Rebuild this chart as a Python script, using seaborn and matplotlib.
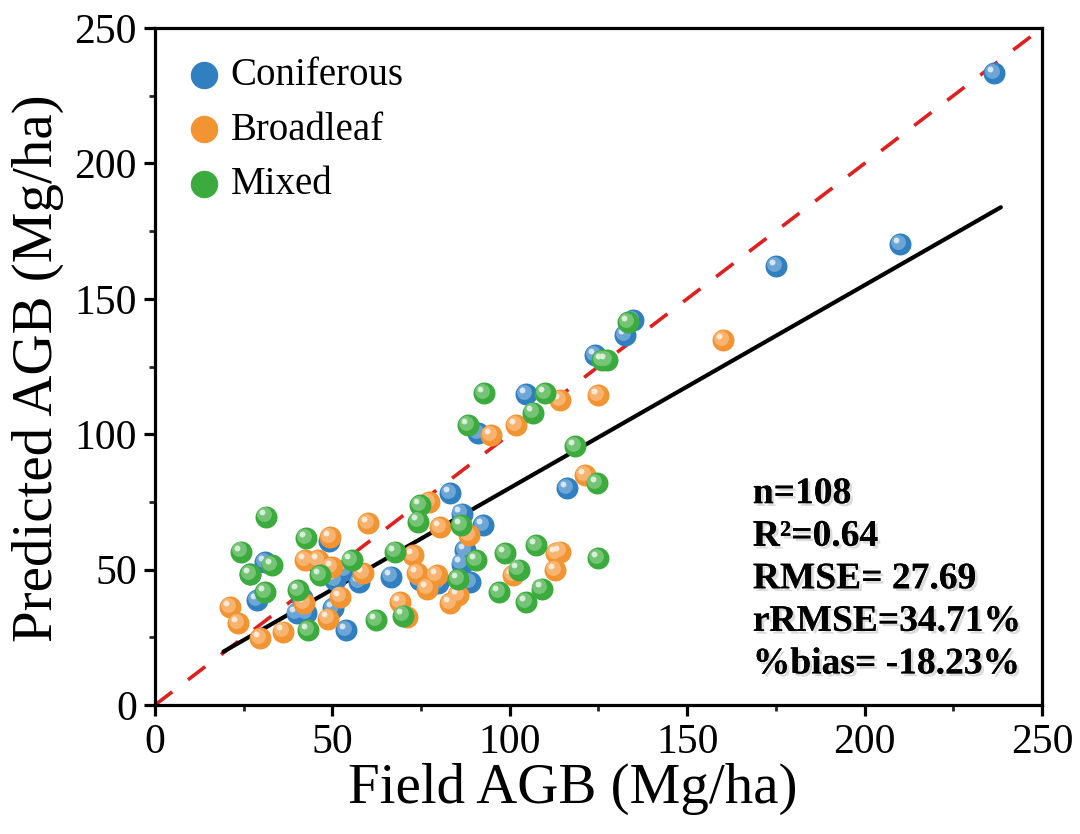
import numpy as np
import pandas as pd
import matplotlib
matplotlib.use("Agg")
import matplotlib.pyplot as plt
import matplotlib.patheffects as pe
from matplotlib.transforms import offset_copy
import seaborn as sns

# ---------------- data ----------------
coniferous_x = [236.5, 210, 175, 134.8, 132.5, 124, 104.6, 91.1, 116.2, 83.1, 92.5, 86.4,
                87.4, 86.4, 88.8, 79.9, 74.6, 66.5, 57.6, 50.7, 53.5, 45.6, 49.1, 50.1,
                53.8, 39.9, 42.7, 41.3, 28.8, 31.0, 26.8]
coniferous_y = [233.4, 170.2, 162.1, 142.2, 136.6, 129.2, 114.8, 100.3, 80, 78.1, 66.5, 70.7,
                57.2, 52.2, 45.5, 44.9, 46.2, 47.4, 45.5, 46.2, 49.8, 52.4, 60.7, 35.7,
                27.7, 33.8, 33.8, 39.4, 38.8, 52.9, 48.4]

broadleaf_x = [160.2, 125, 114.1, 101.7, 94.7, 121.2, 114.1, 112.7, 101, 88.6, 80.3, 85.5,
               83.1, 72.8, 73.8, 79.4, 76.6, 69, 70.9, 77.3, 60.1, 58.7, 52.1, 48.9, 49.4,
               42.3, 46, 49.8, 42, 36.2, 29.6, 23.5, 21.1, 113]
broadleaf_y = [134.8, 114.5, 112.6, 103.4, 99.7, 84.9, 56.6, 49.9, 48, 62.8, 65.8, 40.6,
               37.5, 55.4, 48.6, 48, 43, 38.1, 32.6, 75, 67.3, 48.6, 40, 31.9, 62,
               53.5, 53.5, 51, 37.5, 27.1, 24.6, 30.1, 36, 56]

mixed_x = [127.3, 126, 133.4, 92.8, 109.9, 106.6, 88.3, 118.4, 124.5, 125, 98.6, 107.5,
           102.5, 97, 104.5, 109, 86.2, 90.6, 74.7, 74.2, 67.6, 62.3, 43.2, 40.4, 46.5,
           55.4, 42.7, 31.4, 24.2, 32.9, 26.8, 31, 70, 85.5]
mixed_y = [127.4, 127.5, 141.5, 115.1, 115.1, 108, 103.4, 95.6, 81.8, 54.1, 56, 59.1,
           50, 41.8, 38.1, 43, 66.5, 53.5, 73.9, 67.7, 56.6, 31.4, 27.7, 42.5, 48,
           53.5, 61.5, 69.6, 56.6, 51.7, 48.4, 41.8, 33, 46.5]

fit_x = [19.3, 238.4]
fit_y = [19.7, 183.8]
one_to_one = [0, 250]

categories = ["Coniferous", "Broadleaf", "Mixed"]
colors = {"Coniferous": "#2f7fc1", "Broadleaf": "#f39433", "Mixed": "#3aab3c"}
stats_text = "n=108\nR²=0.64\nRMSE= 27.69\nrRMSE=34.71%\n%bias= -18.23%"

df = pd.concat([
    pd.DataFrame({"x": coniferous_x, "y": coniferous_y, "type": "Coniferous"}),
    pd.DataFrame({"x": broadleaf_x, "y": broadleaf_y, "type": "Broadleaf"}),
    pd.DataFrame({"x": mixed_x, "y": mixed_y, "type": "Mixed"}),
], ignore_index=True)

# ---------------- style ----------------
sns.set_theme(style="ticks")
plt.rcParams["font.family"] = ["Liberation Serif", "DejaVu Serif"]
plt.rcParams["axes.linewidth"] = 2.3
plt.rcParams["text.color"] = "black"
plt.rcParams["axes.labelcolor"] = "black"

fig = plt.figure(figsize=(10.8, 8.34), dpi=100)
ax = fig.add_axes([0.1435, 0.1547, 0.8213, 0.8117])

# 1:1 line
sns.lineplot(x=one_to_one, y=one_to_one, ax=ax, color="#e0201f", lw=2.6,
             dashes=False, zorder=1)
ax.lines[-1].set_dashes([6, 5.5])
# fit line
sns.lineplot(x=fit_x, y=fit_y, ax=ax, color="black", lw=3.0, zorder=1)


def lighten(c, f):
    r, g, b = matplotlib.colors.to_rgb(c)
    return (r + (1 - r) * f, g + (1 - g) * f, b + (1 - b) * f)


hl1 = offset_copy(ax.transData, fig=fig, x=-1.6, y=1.6, units="points")
hl2 = offset_copy(ax.transData, fig=fig, x=-3.0, y=3.0, units="points")
for cat in categories:
    sub = df[df["type"] == cat]
    sns.scatterplot(data=sub, x="x", y="y", ax=ax, color=colors[cat], s=250,
                    linewidth=0, label=cat, zorder=3)
    ax.scatter(sub["x"], sub["y"], s=115, color=lighten(colors[cat], 0.3),
               linewidth=0, transform=hl1, zorder=3)
    ax.scatter(sub["x"], sub["y"], s=18, color=lighten(colors[cat], 0.8),
               linewidth=0, transform=hl2, zorder=3)

ax.set_xlim(0, 250)
ax.set_ylim(0, 250)
ticks = [0, 50, 100, 150, 200, 250]
ax.set_xticks(ticks)
ax.set_yticks(ticks)
ax.set_xticks([25, 75, 125, 175, 225], minor=True)
ax.set_yticks([25, 75, 125, 175, 225], minor=True)
ax.tick_params(axis="both", which="major", direction="out", length=8, width=2.3,
               labelsize=30, pad=5, colors="black")
ax.tick_params(axis="both", which="minor", direction="out", length=4.5, width=2.0)
ax.tick_params(top=False, right=False, which="both")
for sp in ax.spines.values():
    sp.set_color("black")
    sp.set_linewidth(2.3)

ax.set_xlabel("Field AGB (Mg/ha)", fontsize=41, color="black")
ax.set_ylabel("Predicted AGB (Mg/ha)", fontsize=41, color="black")
ax.xaxis.set_label_coords(0.471, -0.085)
ax.yaxis.set_label_coords(-0.103, 0.497)

leg = ax.legend(loc="upper left", frameon=False, fontsize=28, markerscale=1.25,
                handlelength=1.0, handletextpad=0.2, labelspacing=0.45,
                borderaxespad=0.35, bbox_to_anchor=(0.0, 1.0))
for t in leg.get_texts():
    t.set_color("black")

ax.text(0.674, 0.338, stats_text, transform=ax.transAxes, ha="left", va="top",
        fontsize=27, fontweight="bold", linespacing=1.28, color="black", zorder=5,
        path_effects=[pe.withSimplePatchShadow(offset=(2, -2), shadow_rgbFace="#999999", alpha=0.35),
                      pe.Normal()])

fig.savefig("out.png", dpi=100, facecolor="white")
